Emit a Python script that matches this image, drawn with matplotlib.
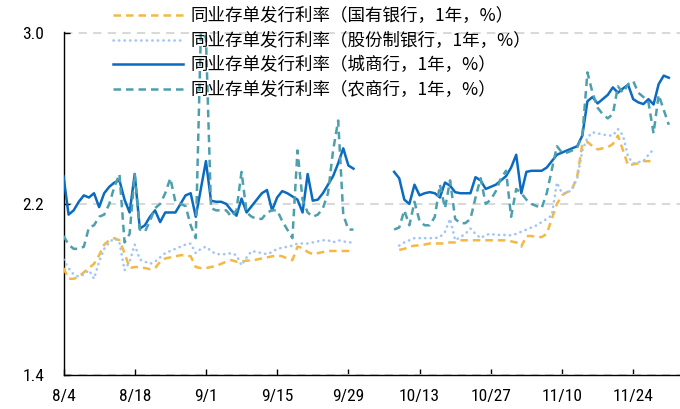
import matplotlib
matplotlib.use("Agg")
import matplotlib.pyplot as plt
import matplotlib.dates as mdates
from matplotlib import font_manager
from matplotlib.font_manager import FontProperties
import numpy as np
import pandas as pd

# ---------------------------------------------------------------- data
series_labels = [
    "同业存单发行利率（国有银行，1年，%）",
    "同业存单发行利率（股份制银行，1年，%）",
    "同业存单发行利率（城商行，1年，%）",
    "同业存单发行利率（农商行，1年，%）",
]

# daily values 8/4 - 9/30
pre_start = "2025-08-04"
state_pre = [1.90, 1.85, 1.85, 1.86, 1.88, 1.90, 1.92, 1.96, 2.01, 2.03,
             2.04, 2.03, 1.97, 1.90, 1.905, 1.905, 1.90, 1.895, 1.90, 1.93,
             1.945, 1.95, 1.955, 1.96, 1.96, 1.955, 1.905, 1.90, 1.90, 1.905,
             1.91, 1.92, 1.93, 1.937, 1.93, 1.93, 1.935, 1.935, 1.94, 1.945,
             1.95, 1.955, 1.96, 1.955, 1.945, 1.937, 2.00, 1.995, 1.975, 1.965,
             1.97, 1.975, 1.98, 1.98, 1.98, 1.98, 1.98, 1.98]
joint_pre = [1.94, 1.90, 1.87, 1.86, 1.87, 1.89, 1.85, 1.93, 1.99, 2.02,
             2.04, 2.02, 1.89, 1.93, 2.01, 1.94, 1.93, 1.92, 1.93, 1.95,
             1.97, 1.98, 1.99, 2.00, 2.01, 2.015, 1.97, 1.99, 2.00, 1.98,
             1.965, 1.965, 1.965, 1.97, 1.96, 1.913, 1.95, 1.98, 1.975, 1.97,
             1.965, 1.975, 1.99, 1.995, 2.00, 2.005, 2.015, 2.015, 2.015, 2.02,
             2.025, 2.03, 2.03, 2.02, 2.03, 2.025, 2.02, 2.02]
city_pre = [2.33, 2.15, 2.17, 2.21, 2.24, 2.23, 2.25, 2.185, 2.25, 2.28,
            2.30, 2.31, 2.22, 2.16, 2.34, 2.085, 2.10, 2.14, 2.17, 2.115,
            2.16, 2.16, 2.16, 2.20, 2.24, 2.25, 2.14, 2.27, 2.40, 2.215,
            2.21, 2.21, 2.20, 2.17, 2.145, 2.225, 2.16, 2.19, 2.22, 2.25,
            2.265, 2.17, 2.23, 2.26, 2.25, 2.235, 2.22, 2.16, 2.34, 2.215,
            2.22, 2.25, 2.29, 2.33, 2.39, 2.46, 2.38, 2.365]
rural_pre = [2.05, 2.01, 1.99, 1.99, 2.00, 2.09, 2.10, 2.14, 2.15, 2.20,
             2.28, 2.34, 2.02, 2.06, 2.34, 2.08, 2.07, 2.12, 2.18, 2.20,
             2.25, 2.32, 2.21, 2.20, 2.19, 2.10, 2.04, 3.00, 2.98, 2.18,
             2.17, 2.17, 2.17, 2.14, 2.17, 2.35, 2.16, 2.14, 2.13, 2.13,
             2.16, 2.17, 2.17, 2.12, 2.08, 2.04, 2.45, 2.22, 2.16, 2.14,
             2.15, 2.18, 2.25, 2.45, 2.59, 2.15, 2.08, 2.08]

# daily values after the National Day holiday
state_post_start = "2025-10-09"
state_post = [1.985, 1.99, 2.00, 2.005, 2.006, 2.01, 2.015, 2.015, 2.015, 2.015,
              2.02, 2.02, 2.03, 2.03, 2.03, 2.03, 2.03, 2.03, 2.03, 2.03,
              2.03, 2.03, 2.025, 2.02, 2.00, 2.05, 2.05, 2.045, 2.045, 2.06,
              2.13, 2.20, 2.24, 2.255, 2.27, 2.33, 2.48, 2.49, 2.47, 2.455,
              2.46, 2.465, 2.48, 2.52, 2.45, 2.38, 2.385, 2.39, 2.40, 2.40,
              2.40]
joint_post_start = "2025-10-09"
joint_post = [2.005, 2.02, 2.03, 2.04, 2.04, 2.04, 2.04, 2.04, 2.045, 2.07,
              2.13, 2.03, 2.045, 2.06, 2.085, 2.06, 2.04, 2.055, 2.06, 2.055,
              2.055, 2.055, 2.053, 2.06, 2.07, 2.08, 2.09, 2.10, 2.115, 2.13,
              2.146, 2.30, 2.25, 2.25, 2.27, 2.32, 2.45, 2.51, 2.535, 2.53,
              2.525, 2.52, 2.52, 2.55, 2.52, 2.42, 2.39, 2.395, 2.40, 2.43,
              2.455]
city_post_start = "2025-10-08"
city_post = [2.35, 2.32, 2.22, 2.20, 2.29, 2.24, 2.25, 2.255, 2.25, 2.23,
             2.30, 2.285, 2.255, 2.25, 2.25, 2.25, 2.325, 2.31, 2.27, 2.28,
             2.29, 2.31, 2.33, 2.37, 2.43, 2.25, 2.35, 2.355, 2.355, 2.355,
             2.37, 2.40, 2.43, 2.44, 2.45, 2.46, 2.47, 2.52, 2.68, 2.70,
             2.67, 2.69, 2.71, 2.745, 2.72, 2.74, 2.757, 2.69, 2.675, 2.667,
             2.69, 2.665, 2.76, 2.80, 2.79]
rural_post_start = "2025-10-08"
rural_post = [2.08, 2.09, 2.17, 2.10, 2.21, 2.12, 2.10, 2.10, 2.14, 2.29,
              2.18, 2.31, 2.13, 2.11, 2.11, 2.13, 2.23, 2.32, 2.20, 2.22,
              2.26, 2.32, 2.355, 2.14, 2.27, 2.25, 2.22, 2.20, 2.19, 2.18,
              2.25, 2.36, 2.47, 2.44, 2.44, 2.45, 2.465, 2.52, 2.815, 2.72,
              2.65, 2.62, 2.60, 2.62, 2.75, 2.72, 2.76, 2.775, 2.72, 2.70,
              2.675, 2.53, 2.71, 2.64, 2.57]

tick_dates = ["2025-08-04", "2025-08-18", "2025-09-01", "2025-09-15",
              "2025-09-29", "2025-10-13", "2025-10-27", "2025-11-10",
              "2025-11-24"]
tick_labels = ["8/4", "8/18", "9/1", "9/15", "9/29", "10/13", "10/27",
               "11/10", "11/24"]
y_ticks = [1.4, 2.2, 3.0]
y_tick_labels = ["1.4", "2.2", "3.0"]


def build(pre, post_start, post):
    s1 = pd.Series(pre, index=pd.date_range(pre_start, periods=len(pre), freq="D"))
    s2 = pd.Series(post, index=pd.date_range(post_start, periods=len(post), freq="D"))
    gap = pd.Series([np.nan], index=[s1.index[-1] + pd.Timedelta(days=1)])
    return pd.concat([s1, gap, s2])


state = build(state_pre, state_post_start, state_post)
joint = build(joint_pre, joint_post_start, joint_post)
city = build(city_pre, city_post_start, city_post)
rural = build(rural_pre, rural_post_start, rural_post)

# ---------------------------------------------------------------- fonts
installed = {f.name for f in font_manager.fontManager.ttflist}
num_family = "DejaVu Sans"
for cand in ["Liberation Sans Narrow", "Roboto Condensed", "Liberation Sans"]:
    if cand in installed:
        num_family = cand
        break
num_font = FontProperties(family=[num_family, "DejaVu Sans"], size=12.5)
cjk_font = FontProperties(family=["Noto Sans CJK SC", "DejaVu Sans"], size=12.6)

# ---------------------------------------------------------------- figure
fig = plt.figure(figsize=(6.8, 4.09), dpi=100)
W, H = 680, 409
left_px, right_px, top_px, bottom_px = 63.5, 680, 32, 375
ax = fig.add_axes([left_px / W, 1 - bottom_px / H,
                   (right_px - left_px) / W, (bottom_px - top_px) / H])

styles = [
    (state, dict(color="#F4B942", lw=1.8, ls=(0, (3, 2)))),
    (joint, dict(color="#A3C5F6", lw=1.9, ls=(0, (0.1, 2.0)),
                 dash_capstyle="round")),
    (city, dict(color="#0A6BC0", lw=1.8, ls="-")),
    (rural, dict(color="#4D9FAE", lw=1.8, ls=(0, (3, 2)))),
]
handles = []
for s, kw in styles:
    (ln,) = ax.plot(s.index, s.values, zorder=3, **kw)
    handles.append(ln)

x0 = pd.Timestamp(pre_start)
ax.set_xlim(mdates.date2num(x0), mdates.date2num(x0) + 121.2)
ax.set_ylim(1.4, 3.004)

ax.set_yticks(y_ticks)
ax.set_yticklabels(y_tick_labels, fontproperties=num_font)
ax.set_xticks([mdates.date2num(pd.Timestamp(d)) for d in tick_dates])
ax.set_xticklabels(tick_labels, fontproperties=num_font)
ax.tick_params(axis="y", direction="in", length=4, width=1, pad=14,
               colors="#000000")
ax.tick_params(axis="x", direction="in", length=4, width=1, pad=10,
               colors="#000000")

ax.grid(axis="y", color="#D9D9D9", lw=1.5, ls=(0, (4, 3)), zorder=1)
ax.grid(axis="x", visible=False)
for side in ("top", "right"):
    ax.spines[side].set_visible(False)
for side in ("left", "bottom"):
    ax.spines[side].set_color("#000000")
    ax.spines[side].set_linewidth(1.0)

fig.legend(handles, series_labels, loc="upper left",
           bbox_to_anchor=(113 / W, 1 - 7 / H), frameon=False,
           borderpad=0, borderaxespad=0, handlelength=4.0,
           handletextpad=0.4, labelspacing=0.38, prop=cjk_font)

fig.savefig("out.png", dpi=100)
